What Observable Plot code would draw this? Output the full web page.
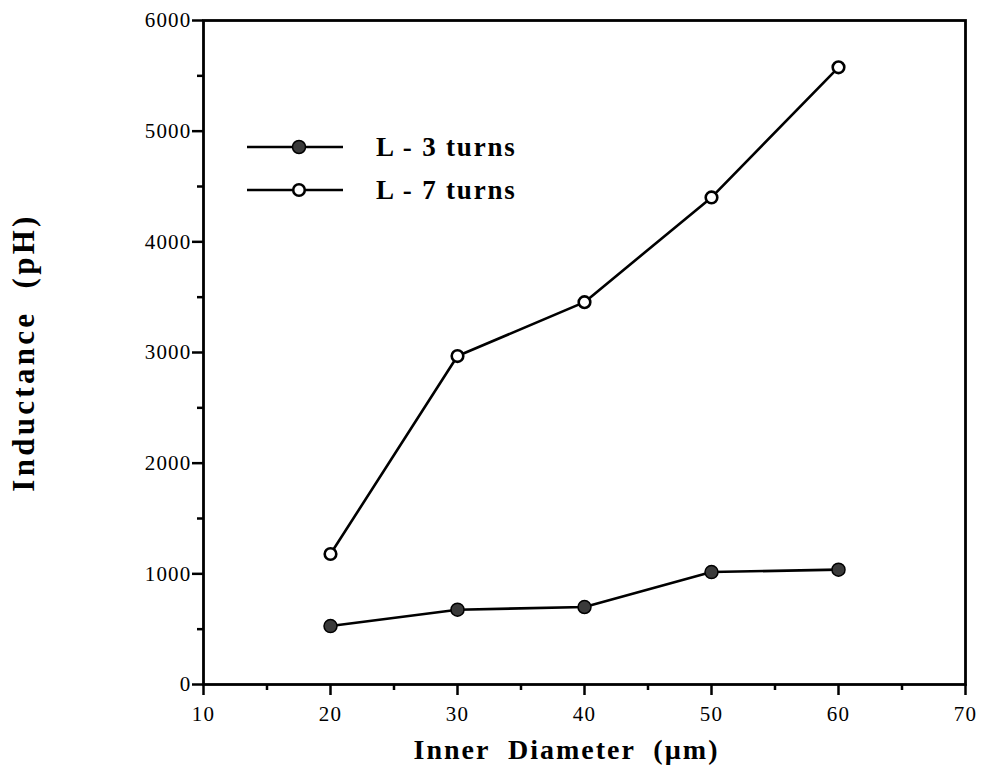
<!DOCTYPE html>
<html>
<head>
<meta charset="utf-8">
<script src="https://cdn.jsdelivr.net/npm/d3@7"></script>
<script src="https://cdn.jsdelivr.net/npm/@observablehq/plot@0.6"></script>
<style>
  html, body { margin: 0; padding: 0; background: #fff; }
  #wrap { position: relative; width: 982px; height: 782px; }
  #legend { position: absolute; left: 0; top: 0; pointer-events: none; }
  #wrap g[aria-label="x-axis tick label"] text,
  #wrap g[aria-label="y-axis tick label"] text { letter-spacing: 1.2px; }
</style>
</head>
<body>
<div id="wrap"></div>
<script>
// ---- data ----
const diameters = [20, 30, 40, 50, 60];
const turns3 = [528, 676, 700, 1016, 1038];
const turns7 = [1179, 2968, 3455, 4401, 5577];
const seriesNames = ["L - 3 turns", "L - 7 turns"];
const xMajorTicks = [10, 20, 30, 40, 50, 60, 70];
const xMinorTicks = [15, 25, 35, 45, 55, 65];
const yMajorTicks = [0, 1000, 2000, 3000, 4000, 5000, 6000];
const yMinorTicks = [500, 1500, 2500, 3500, 4500, 5500];
const xLabel = "Inner  Diameter  (\u00b5m)";
const yLabel = "Inductance  (pH)";

const rows3 = diameters.map((d, i) => ({x: d, y: turns3[i]}));
const rows7 = diameters.map((d, i) => ({x: d, y: turns7[i]}));

const serif = "'Liberation Serif', 'DejaVu Serif', serif";

const chart = Plot.plot({
  width: 982,
  height: 782,
  marginLeft: 203,
  marginRight: 17,
  marginTop: 20,
  marginBottom: 98,
  style: {fontFamily: serif, fontSize: "21px", color: "#000", background: "#fff"},
  x: {domain: [10, 70]},
  y: {domain: [0, 6000]},
  marks: [
    Plot.axisX({ticks: xMajorTicks, tickSize: 11, tickPadding: 11, strokeWidth: 2.5, fontSize: 21, label: null, tickFormat: d => String(d)}),
    Plot.axisX({ticks: xMinorTicks, tickSize: 6, strokeWidth: 2.5, text: null, label: null}),
    Plot.axisY({ticks: yMajorTicks, tickSize: 11, tickPadding: 1, strokeWidth: 2.5, fontSize: 21, label: null, tickFormat: d => String(d)}),
    Plot.axisY({ticks: yMinorTicks, tickSize: 6, strokeWidth: 2.5, text: null, label: null}),
    Plot.frame({stroke: "#000", strokeWidth: 2.8}),
    Plot.line(rows3, {x: "x", y: "y", stroke: "#000", strokeWidth: 2.6}),
    Plot.line(rows7, {x: "x", y: "y", stroke: "#000", strokeWidth: 2.6}),
    Plot.dot(rows3, {x: "x", y: "y", r: 6.5, fill: "#3a3a3a", stroke: "#000", strokeWidth: 1.5}),
    Plot.dot(rows7, {x: "x", y: "y", r: 5.8, fill: "#fff", stroke: "#000", strokeWidth: 2.6}),
    Plot.text([xLabel], {frameAnchor: "bottom", textAnchor: "middle", lineAnchor: "middle", dx: -18, dy: 66, fontSize: 28, fontWeight: "bold", fill: "#000"}),
    Plot.text([yLabel], {frameAnchor: "left", textAnchor: "middle", lineAnchor: "middle", dx: -179, rotate: -90, fontSize: 31, fontWeight: "bold", fill: "#000"})
  ]
});
document.getElementById("wrap").appendChild(chart);

// widen the bold label lettering like the original typesetting
const labelTexts = d3.select(chart).selectAll('g[aria-label="text"] text');
labelTexts.filter(function () { return this.textContent === xLabel; }).style("letter-spacing", "2px");
labelTexts.filter(function () { return this.textContent === yLabel; }).style("letter-spacing", "3.3px");

// ---- legend overlay ----
const leg = d3.select("#wrap").append("svg")
  .attr("id", "legend").attr("width", 982).attr("height", 782)
  .style("font-family", serif);
const legendStyles = [
  {fill: "#3a3a3a", r: 6.5, sw: 1.5},
  {fill: "#fff", r: 5.8, sw: 2.6}
];
seriesNames.forEach((name, i) => {
  const yy = 147 + i * 43;
  const g = leg.append("g");
  g.append("line").attr("x1", 247).attr("x2", 343).attr("y1", yy).attr("y2", yy)
    .attr("stroke", "#000").attr("stroke-width", 2.6);
  g.append("circle").attr("cx", 299).attr("cy", yy).attr("r", legendStyles[i].r)
    .attr("fill", legendStyles[i].fill).attr("stroke", "#000").attr("stroke-width", legendStyles[i].sw);
  g.append("text").attr("x", 376).attr("y", yy).attr("dy", "0.35em")
    .attr("font-size", 27).attr("font-weight", "bold").attr("fill", "#000")
    .style("letter-spacing", "1.8px").text(name);
});
</script>
</body>
</html>
